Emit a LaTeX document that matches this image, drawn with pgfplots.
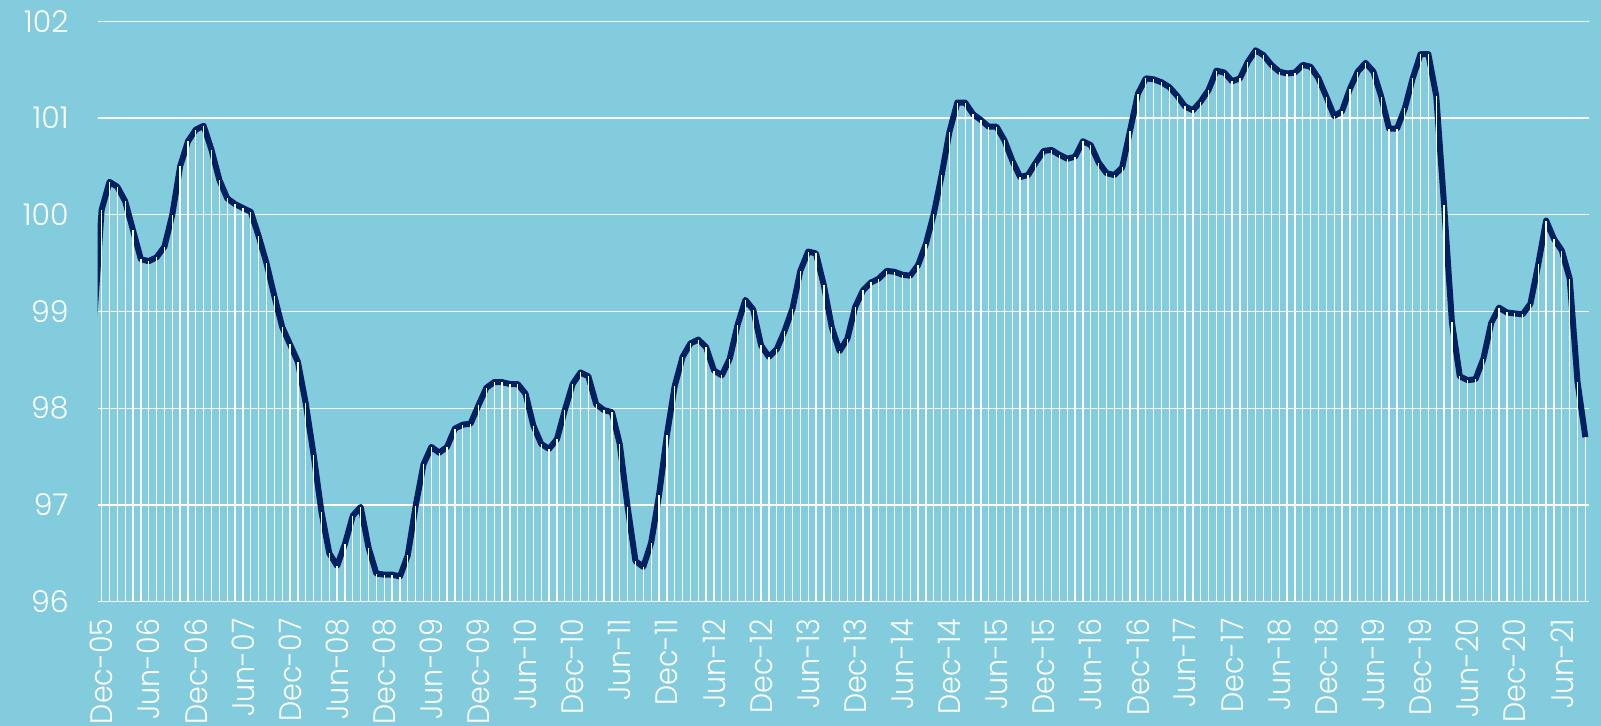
\documentclass[border=0pt]{standalone}
\usepackage{fontspec}
\IfFontExistsTF{Poppins Light}{%
  \setmainfont{Poppins Light}%
  \newfontfamily\lblfont{Poppins Light}[FakeStretch=0.92]}{%
  \setmainfont{Poppins}%
  \newfontfamily\lblfont{Poppins}[FakeStretch=0.92]}
\usepackage{pgfplots}
\usepackage{pgfplotstable}
\pgfplotsset{compat=1.18}

\definecolor{bgblue}{RGB}{131,204,221}
\definecolor{navy}{RGB}{0,32,96}

% monthly index, Dec-05 = 0
\pgfplotstableread{
x y
-1 98.85
0 100.05
1 100.34
2 100.29
3 100.14
4 99.84
5 99.54
6 99.52
7 99.56
8 99.67
9 100.00
10 100.50
11 100.76
12 100.88
13 100.92
14 100.67
15 100.36
16 100.17
17 100.11
18 100.07
19 100.03
20 99.78
21 99.50
22 99.16
23 98.84
24 98.66
25 98.48
26 98.05
27 97.52
28 96.93
29 96.50
30 96.37
31 96.60
32 96.89
33 96.98
34 96.56
35 96.29
36 96.28
37 96.28
38 96.26
39 96.48
40 96.99
41 97.42
42 97.60
43 97.54
44 97.60
45 97.79
46 97.83
47 97.84
48 98.03
49 98.21
50 98.27
51 98.27
52 98.25
53 98.25
54 98.15
55 97.82
56 97.63
57 97.58
58 97.68
59 97.98
60 98.25
61 98.37
62 98.33
63 98.04
64 97.98
65 97.96
66 97.63
67 96.98
68 96.42
69 96.36
70 96.61
71 97.10
72 97.72
73 98.23
74 98.53
75 98.67
76 98.71
77 98.63
78 98.39
79 98.34
80 98.51
81 98.86
82 99.12
83 99.02
84 98.65
85 98.53
86 98.61
87 98.80
88 99.03
89 99.42
90 99.62
91 99.60
92 99.27
93 98.84
94 98.59
95 98.72
96 99.05
97 99.22
98 99.30
99 99.34
100 99.42
101 99.41
102 99.38
103 99.37
104 99.48
105 99.70
106 100.01
107 100.41
108 100.86
109 101.16
110 101.16
111 101.04
112 100.98
113 100.91
114 100.91
115 100.77
116 100.56
117 100.39
118 100.41
119 100.54
120 100.66
121 100.67
122 100.62
123 100.58
124 100.60
125 100.76
126 100.72
127 100.54
128 100.43
129 100.41
130 100.49
131 100.87
132 101.25
133 101.41
134 101.40
135 101.37
136 101.32
137 101.23
138 101.12
139 101.08
140 101.17
141 101.29
142 101.49
143 101.47
144 101.38
145 101.41
146 101.58
147 101.70
148 101.65
149 101.55
150 101.48
151 101.46
152 101.47
153 101.55
154 101.53
155 101.41
156 101.22
157 101.02
158 101.07
159 101.30
160 101.48
161 101.57
162 101.48
163 101.22
164 100.89
165 100.89
166 101.10
167 101.41
168 101.66
169 101.66
170 101.23
171 100.10
172 98.89
173 98.33
174 98.29
175 98.30
176 98.51
177 98.88
178 99.04
179 98.99
180 98.98
181 98.97
182 99.08
183 99.49
184 99.94
185 99.75
186 99.63
187 99.34
188 98.27
189 97.70
}\idx

\begin{document}
\begin{tikzpicture}
\fill[bgblue] (-48.85pt,-62.15pt) rectangle (751.65pt,300.85pt);
\begin{axis}[
  scale only axis,
  width=745.8pt, height=290.2pt,
  xmin=-0.5, xmax=189.5,
  ymin=96, ymax=102,
  ytick={96,97,...,102},
  xtick={0,6,...,186},
  xticklabels={Dec-05,Jun-06,Dec-06,Jun-07,Dec-07,Jun-08,Dec-08,Jun-09,
    Dec-09,Jun-10,Dec-10,Jun-11,Dec-11,Jun-12,Dec-12,Jun-13,Dec-13,Jun-14,
    Dec-14,Jun-15,Dec-15,Jun-16,Dec-16,Jun-17,Dec-17,Jun-18,Dec-18,Jun-19,
    Dec-19,Jun-20,Dec-20,Jun-21},
  axis line style={draw=none},
  tick style={draw=none},
  ymajorgrids,
  major grid style={white, line width=0.6pt},
  /pgf/number format/assume math mode=true,
  ticklabel style={font=\fontsize{15}{18}\selectfont, text=white},
  xticklabel style={rotate=90, anchor=east, font=\lblfont\fontsize{15.5}{18}\selectfont},
  xticklabel shift=5pt,
  yticklabel shift=11pt,
]
\addplot[navy, line width=3pt, line join=round] table {\idx};
\addplot[ycomb, white, line width=0.65pt, restrict x to domain=0:200] table {\idx};
\end{axis}
\pgfresetboundingbox
\path (-48.85pt,-62.15pt) rectangle (751.65pt,300.85pt);
\end{tikzpicture}
\end{document}
